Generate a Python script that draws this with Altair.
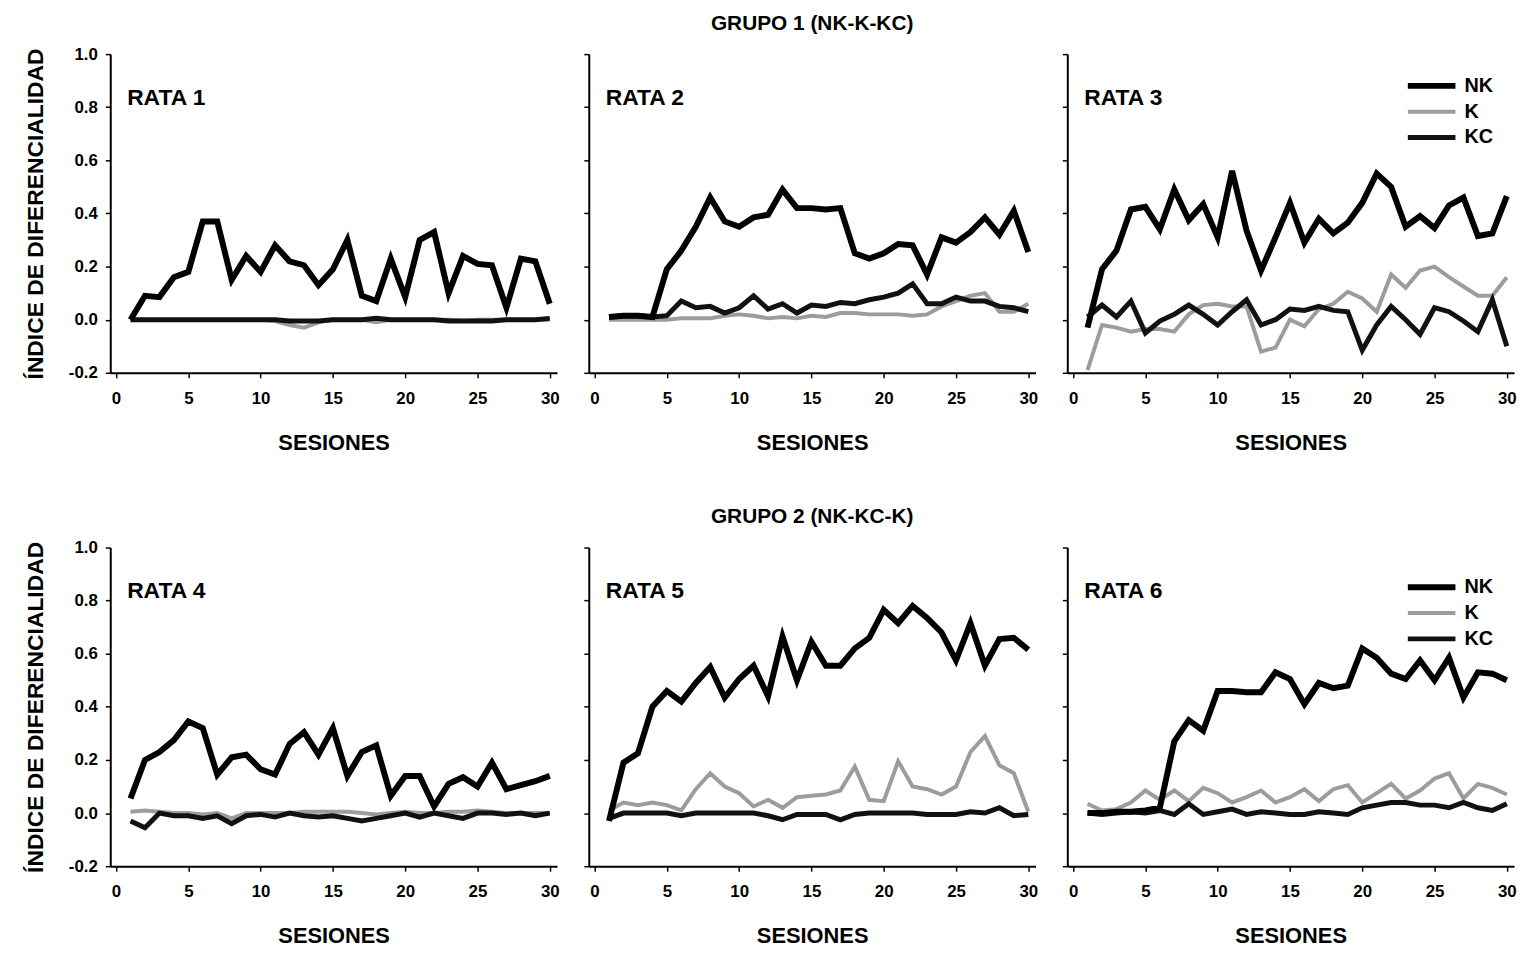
import altair as alt
import pandas as pd

SESIONES = list(range(1, 31))
SERIES = ["NK", "K", "KC"]
X_TICKS = [0, 5, 10, 15, 20, 25, 30]
Y_TICKS = [-0.2, 0.0, 0.2, 0.4, 0.6, 0.8, 1.0]

GRUPO1 = "GRUPO 1 (NK-K-KC)"
GRUPO2 = "GRUPO 2 (NK-KC-K)"
X_TITLE = "SESIONES"
Y_TITLE = "ÍNDICE DE DIFERENCIALIDAD"

# ---- RATA 1 ----
r1_nk = [0.00, 0.09, 0.085, 0.16, 0.18, 0.37, 0.37, 0.15, 0.24, 0.18, 0.28, 0.22, 0.205, 0.13, 0.19,
         0.30, 0.09, 0.07, 0.23, 0.085, 0.30, 0.33, 0.10, 0.24, 0.21, 0.205, 0.045, 0.23, 0.22, 0.06]
r1_k = [0.0, 0.0, 0.0, 0.0, 0.0, 0.0, 0.0, 0.0, 0.0, 0.0, -0.005, -0.02, -0.03, -0.01, 0.0,
        0.0, 0.0, -0.01, 0.0, 0.0, 0.0, 0.0, 0.0, -0.005, 0.0, 0.0, 0.0, 0.0, 0.0, 0.0]
r1_kc = [0.0, 0.0, 0.0, 0.0, 0.0, 0.0, 0.0, 0.0, 0.0, 0.0, 0.0, -0.005, -0.005, -0.005, 0.0,
         0.0, 0.0, 0.005, 0.0, 0.0, 0.0, 0.0, -0.005, -0.005, -0.005, -0.005, 0.0, 0.0, 0.0, 0.005]

# ---- RATA 2 ----
r2_nk = [0.01, 0.015, 0.015, 0.01, 0.19, 0.26, 0.35, 0.46, 0.37, 0.35, 0.385, 0.395, 0.49, 0.42, 0.42,
         0.415, 0.42, 0.25, 0.23, 0.25, 0.285, 0.28, 0.17, 0.31, 0.29, 0.33, 0.385, 0.32, 0.41, 0.255]
r2_k = [0.0, 0.0, 0.0, 0.0, 0.0, 0.005, 0.005, 0.005, 0.015, 0.02, 0.015, 0.005, 0.01, 0.005, 0.015,
        0.01, 0.025, 0.025, 0.02, 0.02, 0.02, 0.015, 0.02, 0.05, 0.07, 0.09, 0.10, 0.03, 0.03, 0.06]
r2_kc = [0.01, 0.015, 0.015, 0.01, 0.015, 0.07, 0.045, 0.05, 0.025, 0.045, 0.09, 0.04, 0.06, 0.025, 0.055,
         0.05, 0.065, 0.06, 0.075, 0.085, 0.10, 0.135, 0.06, 0.06, 0.085, 0.07, 0.07, 0.05, 0.045, 0.03]

# ---- RATA 3 ----
r3_nk = [-0.03, 0.19, 0.26, 0.415, 0.425, 0.34, 0.49, 0.375, 0.435, 0.31, 0.56, 0.335, 0.185, 0.31, 0.44,
         0.29, 0.38, 0.325, 0.365, 0.44, 0.55, 0.50, 0.35, 0.39, 0.345, 0.43, 0.46, 0.315, 0.325, 0.465]
r3_k = [-0.19, -0.02, -0.03, -0.045, -0.035, -0.035, -0.045, 0.02, 0.055, 0.06, 0.05, 0.05, -0.12, -0.105, 0.0,
        -0.025, 0.04, 0.06, 0.105, 0.08, 0.03, 0.17, 0.12, 0.185, 0.20, 0.16, 0.125, 0.09, 0.09, 0.16]
r3_kc = [0.01, 0.055, 0.01, 0.07, -0.05, -0.005, 0.02, 0.055, 0.02, -0.02, 0.03, 0.075, -0.02, 0.0, 0.04,
         0.035, 0.05, 0.035, 0.03, -0.115, -0.02, 0.05, 0.0, -0.055, 0.045, 0.03, -0.005, -0.045, 0.075, -0.10]

# ---- RATA 4 ----
r4_nk = [0.055, 0.20, 0.23, 0.275, 0.345, 0.32, 0.145, 0.21, 0.22, 0.165, 0.145, 0.26, 0.305, 0.22, 0.32,
         0.14, 0.23, 0.255, 0.065, 0.14, 0.14, 0.025, 0.11, 0.135, 0.10, 0.19, 0.09, 0.105, 0.12, 0.14]
r4_k = [0.005, 0.01, 0.005, 0.0, 0.0, -0.005, 0.0, -0.02, 0.0, 0.0, 0.0, 0.0, 0.005, 0.005, 0.005,
        0.005, 0.0, -0.005, 0.0, 0.005, 0.0, 0.0, 0.005, 0.005, 0.01, 0.005, 0.0, 0.0, 0.0, 0.0]
r4_kc = [-0.03, -0.055, 0.0, -0.01, -0.01, -0.02, -0.01, -0.04, -0.01, -0.005, -0.015, 0.0, -0.01, -0.015, -0.01,
         -0.02, -0.03, -0.02, -0.01, 0.0, -0.015, 0.0, -0.01, -0.02, 0.0, 0.0, -0.005, 0.0, -0.01, 0.0]

# ---- RATA 5 ----
r5_nk = [-0.03, 0.19, 0.225, 0.40, 0.46, 0.42, 0.49, 0.55, 0.435, 0.505, 0.555, 0.44, 0.665, 0.50, 0.645,
         0.555, 0.555, 0.62, 0.66, 0.765, 0.715, 0.78, 0.735, 0.68, 0.575, 0.715, 0.555, 0.655, 0.66, 0.615]
r5_k = [0.01, 0.04, 0.03, 0.04, 0.03, 0.01, 0.09, 0.15, 0.10, 0.075, 0.025, 0.05, 0.02, 0.06, 0.065,
        0.07, 0.085, 0.175, 0.05, 0.045, 0.195, 0.10, 0.09, 0.07, 0.10, 0.23, 0.29, 0.18, 0.15, 0.005]
r5_kc = [-0.02, 0.0, 0.0, 0.0, 0.0, -0.01, 0.0, 0.0, 0.0, 0.0, 0.0, -0.01, -0.025, -0.005, -0.005,
         -0.005, -0.025, -0.005, 0.0, 0.0, 0.0, 0.0, -0.005, -0.005, -0.005, 0.005, 0.0, 0.02, -0.01, -0.005]

# ---- RATA 6 ----
r6_nk = [0.0, 0.0, 0.005, 0.005, 0.01, 0.02, 0.27, 0.35, 0.31, 0.46, 0.46, 0.455, 0.455, 0.53, 0.505,
         0.41, 0.49, 0.47, 0.48, 0.62, 0.585, 0.525, 0.505, 0.575, 0.50, 0.585, 0.435, 0.53, 0.525, 0.50]
r6_k = [0.035, 0.01, 0.015, 0.04, 0.085, 0.05, 0.085, 0.045, 0.095, 0.075, 0.04, 0.06, 0.085, 0.04, 0.06,
        0.09, 0.045, 0.09, 0.105, 0.04, 0.075, 0.11, 0.055, 0.085, 0.13, 0.15, 0.055, 0.11, 0.095, 0.07]
r6_kc = [0.0, -0.005, 0.0, 0.005, 0.0, 0.01, -0.005, 0.035, -0.005, 0.005, 0.015, -0.005, 0.005, 0.0, -0.005,
         -0.005, 0.005, 0.0, -0.005, 0.02, 0.03, 0.04, 0.04, 0.03, 0.03, 0.02, 0.04, 0.02, 0.01, 0.035]

FONT = "Liberation Sans"
W, H = 450, 321

color_scale = alt.Scale(type="ordinal", domain=SERIES, range=["#000000", "#9c9c9c", "#111111"])
width_scale = alt.Scale(type="ordinal", domain=SERIES, range=[6.0, 4.0, 5.0])


def panel(name, nk, k, kc, first_col, legend_y=None, title=None):
    df = pd.DataFrame({
        "sesion": SESIONES * 3,
        "valor": nk + k + kc,
        "serie": ["NK"] * 30 + ["K"] * 30 + ["KC"] * 30,
    })
    if legend_y is not None:
        leg = alt.Legend(title=None, orient="none", legendX=340, legendY=legend_y,
                         symbolType="stroke", symbolSize=2300, clipHeight=20, rowPadding=6,
                         labelFont=FONT, labelFontWeight="bold", labelFontSize=20,
                         labelColor="black", labelOffset=6, padding=0)
    else:
        leg = None

    x = alt.X("sesion:Q",
              scale=alt.Scale(domain=[-0.4, 30.5], nice=False, zero=False),
              axis=alt.Axis(values=X_TICKS, title=X_TITLE, labelPadding=13, titlePadding=26))
    if first_col:
        yaxis = alt.Axis(values=Y_TICKS, title=Y_TITLE, labelPadding=8, titlePadding=21,
                         titleFontSize=23,
                         labelExpr="replace(format(datum.value, '.1f'), '\u2212', '-')")
    else:
        yaxis = alt.Axis(values=Y_TICKS, title=None, labels=False)
    y = alt.Y("valor:Q", scale=alt.Scale(domain=[-0.2, 1.0], nice=False, zero=False), axis=yaxis)

    base = alt.Chart(df)
    layers = []
    for s in ["K", "KC", "NK"]:
        layers.append(
            base.transform_filter(alt.datum.serie == s).mark_line().encode(
                x=x, y=y,
                color=alt.Color("serie:N", scale=color_scale, legend=leg),
                strokeWidth=alt.StrokeWidth("serie:N", scale=width_scale, legend=leg),
            )
        )
    label = alt.Chart(pd.DataFrame({"t": [name]})).mark_text(
        align="left", baseline="middle", font=FONT, fontWeight="bold", fontSize=23, color="black"
    ).encode(text="t:N", x=alt.value(17), y=alt.value(44))
    ch = alt.layer(*layers, label).properties(width=W, height=H)
    if title is not None:
        ch = ch.properties(title=alt.TitleParams(title, font=FONT, fontWeight="bold", fontSize=21,
                                                 color="black", offset=20))
    return ch


p1 = panel("RATA 1", r1_nk, r1_k, r1_kc, True)
p2 = panel("RATA 2", r2_nk, r2_k, r2_kc, False, title=GRUPO1)
p3 = panel("RATA 3", r3_nk, r3_k, r3_kc, False, legend_y=22)
p4 = panel("RATA 4", r4_nk, r4_k, r4_kc, True)
p5 = panel("RATA 5", r5_nk, r5_k, r5_kc, False, title=GRUPO2)
p6 = panel("RATA 6", r6_nk, r6_k, r6_kc, False, legend_y=30)

chart = alt.concat(p1, p2, p3, p4, p5, p6, columns=3, spacing={"row": 176, "column": 32},
                   bounds="flush").resolve_scale(
    color="independent", strokeWidth="independent"
).properties(
    padding={"left": 16, "top": 0, "right": 0, "bottom": 5}
).configure_view(stroke="transparent").configure_axis(
    grid=False, domainColor="black", domainWidth=2, tickColor="black", tickWidth=1.5, tickSize=5,
    labelFont=FONT, labelFontWeight="bold", labelFontSize=17, labelColor="black",
    titleFont=FONT, titleFontWeight="bold", titleFontSize=22, titleColor="black",
)

chart.save("out.html", embed_options={"renderer": "svg", "actions": False})
